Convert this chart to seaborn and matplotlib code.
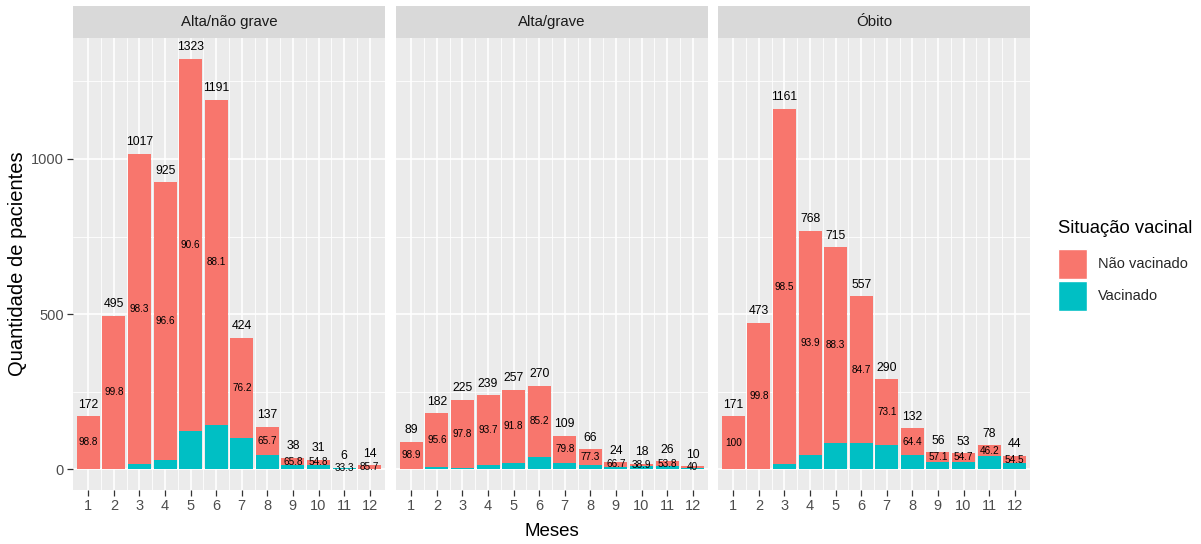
import numpy as np
import pandas as pd
import seaborn as sns
import matplotlib
matplotlib.use("Agg")
import matplotlib.pyplot as plt
from matplotlib.patches import Patch

# Monthly patient counts by outcome and vaccination status
meses = list(range(1, 13))
desfechos = ["Alta/não grave", "Alta/grave", "Óbito"]

nao_vac_alta_nao_grave = [170, 494, 1000, 894, 1199, 1049, 323, 90, 25, 17, 2, 12]
vac_alta_nao_grave = [2, 1, 17, 31, 124, 142, 101, 47, 13, 14, 4, 2]

nao_vac_alta_grave = [88, 174, 220, 224, 236, 230, 87, 51, 16, 7, 14, 4]
vac_alta_grave = [1, 8, 5, 15, 21, 40, 22, 15, 8, 11, 12, 6]

nao_vac_obito = [171, 472, 1144, 721, 631, 472, 212, 85, 32, 29, 36, 24]
vac_obito = [0, 1, 17, 47, 84, 85, 78, 47, 24, 24, 42, 20]

series = {
    "Alta/não grave": (nao_vac_alta_nao_grave, vac_alta_nao_grave),
    "Alta/grave": (nao_vac_alta_grave, vac_alta_grave),
    "Óbito": (nao_vac_obito, vac_obito),
}

rows = []
for d in desfechos:
    nv, v = series[d]
    for m, a, b in zip(meses, nv, v):
        rows.append({"desfecho": d, "mes": m, "nao_vac": a, "vac": b})
df = pd.DataFrame(rows)
df["total"] = df["nao_vac"] + df["vac"]
df["pct"] = (100 * df["nao_vac"] / df["total"]).round(1)
df["pos"] = df["vac"] + df["nao_vac"] / 2

RED = "#F8766D"
TEAL = "#00BFC4"
PANEL = "#EBEBEB"
STRIP = "#D9D9D9"
GREY30 = "#4D4D4D"

sns.set_theme(style="white")
plt.rcParams["font.family"] = ["Liberation Sans", "DejaVu Sans"]

W, H = 1201, 544
fig = plt.figure(figsize=(W / 100, H / 100), dpi=100)

lefts = [73, 396, 718]
pw = 312
top, bottom = 38, 490
strip_top = 5

ymax_all = df["total"].max()
ylo, yhi = -0.05 * ymax_all, 1.05 * ymax_all


def fmt_pct(p):
    return ("%.1f" % p).rstrip("0").rstrip(".")


for i, d in enumerate(desfechos):
    sub = df[df["desfecho"] == d].reset_index(drop=True)
    ax = fig.add_axes([lefts[i] / W, 1 - bottom / H, pw / W, (bottom - top) / H])
    ax.set_facecolor(PANEL)

    sns.barplot(data=sub, x="mes", y="total", native_scale=True, color=RED,
                saturation=1, width=0.9, errorbar=None, linewidth=0, ax=ax, zorder=2)
    sns.barplot(data=sub, x="mes", y="vac", native_scale=True, color=TEAL,
                saturation=1, width=0.9, errorbar=None, linewidth=0, ax=ax, zorder=3)

    ax.set_xlim(0.4, 12.6)
    ax.set_ylim(ylo, yhi)

    # background grid
    for yv in [250, 750, 1250]:
        ax.axhline(yv, color="white", lw=0.6, zorder=0)
    for yv in [0, 500, 1000]:
        ax.axhline(yv, color="white", lw=1.2, zorder=0)
    for xv in np.arange(1.5, 12.5, 1):
        ax.axvline(xv, color="white", lw=0.6, zorder=0)
    for xv in meses:
        ax.axvline(xv, color="white", lw=1.2, zorder=0)

    for _, r in sub.iterrows():
        ax.text(r["mes"], r["total"] + 0.012 * (yhi - ylo), str(int(r["total"])),
                ha="center", va="bottom", fontsize=8.8, color="black", zorder=5)
        ax.text(r["mes"], r["pos"], fmt_pct(r["pct"]), ha="center", va="center",
                fontsize=7.2, color="black", zorder=5)

    ax.set_xticks(meses)
    ax.set_xticklabels([str(m) for m in meses])
    ax.set_yticks([0, 500, 1000])
    if i == 0:
        ax.set_yticklabels(["0", "500", "1000"])
        ax.tick_params(axis="y", left=True)
    else:
        ax.set_yticklabels([])
        ax.tick_params(axis="y", left=False)
    ax.tick_params(axis="both", length=4, width=0.9, color="#333333",
                   labelcolor=GREY30, labelsize=10.5, pad=2.5)
    ax.tick_params(axis="x", bottom=True)
    ax.set_xlabel("")
    ax.set_ylabel("")
    for s in ax.spines.values():
        s.set_visible(False)

    sax = fig.add_axes([lefts[i] / W, 1 - top / H, pw / W, (top - strip_top - 1) / H])
    sax.set_facecolor(STRIP)
    sax.set_xticks([])
    sax.set_yticks([])
    for s in sax.spines.values():
        s.set_visible(False)
    sax.text(0.5, 0.5, d, ha="center", va="center", fontsize=10.8,
             color="#1A1A1A", transform=sax.transAxes)

fig.text((73 + 1030) / 2 / W, 1 - 532 / H, "Meses", ha="center", va="center",
         fontsize=13.5, color="black")
fig.text(18 / W, 1 - 264 / H, "Quantidade de pacientes", ha="center", va="center",
         rotation=90, fontsize=14.5, color="black")

# legend: title placed as its own text, keys below it
fig.text(1058 / W, 1 - 228 / H, "Situação vacinal", ha="left", va="center",
         fontsize=13.3, color="black")
handles = [Patch(facecolor=RED, edgecolor="white"), Patch(facecolor=TEAL, edgecolor="white")]
leg = fig.legend(handles, ["Não vacinado", "Vacinado"],
                 loc="upper left", bbox_to_anchor=(1052 / W, 1 - 243 / H),
                 frameon=False, fontsize=10.5,
                 handlelength=2.0, handleheight=2.85, handletextpad=0.75,
                 labelspacing=0.1, borderaxespad=0)

fig.savefig("out.png", dpi=100)
